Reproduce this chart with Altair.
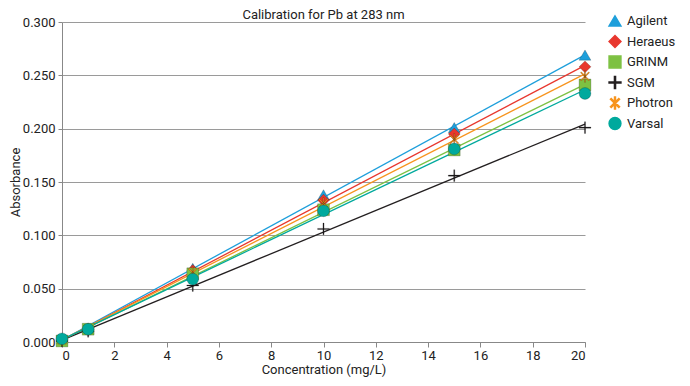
import altair as alt
import pandas as pd

conc = [0, 1, 5, 10, 15, 20]
agilent = [0.003, 0.013, 0.069, 0.138, 0.201, 0.269]
heraeus = [0.002, 0.012, 0.067, 0.133, 0.195, 0.258]
grinm = [0.001, 0.012, 0.064, 0.124, 0.180, 0.241]
sgm = [0.001, 0.010, 0.053, 0.106, 0.156, 0.201]
photron = [0.002, 0.012, 0.065, 0.130, 0.190, 0.249]
varsal = [0.003, 0.012, 0.059, 0.123, 0.181, 0.233]

series_names = ["Agilent", "Heraeus", "GRINM", "SGM", "Photron", "Varsal"]
series_vals = [agilent, heraeus, grinm, sgm, photron, varsal]
colors = ["#1E9FDB", "#E8372E", "#7DC142", "#231F20", "#F7941E", "#00A99D"]

PLUS = "M-1,-0.09H1V0.09H-1Z M-0.09,-1H0.09V1H-0.09Z"
STAR = ("M-0.77,-0.63L0.63,0.77L0.77,0.63L-0.63,-0.77Z "
        "M-0.63,0.77L0.77,-0.63L0.63,-0.77L-0.77,0.63Z "
        "M-0.08,-1V1H0.08V-1Z")
shapes = ["triangle-up", "diamond", "square", PLUS, STAR, "circle"]

rows = []
for i, (name, vals) in enumerate(zip(series_names, series_vals)):
    for x, y in zip(conc, vals):
        rows.append({"series": name, "conc": x, "abs": y, "k": i})
df = pd.DataFrame(rows)

FONT = "Roboto"
TXT = "#222222"

xenc = alt.X("conc:Q", scale=alt.Scale(domain=[0, 20], nice=False),
             axis=alt.Axis(values=list(range(0, 21, 2)), title="Concentration (mg/L)",
                           grid=False, domainColor="#888888", tickColor="#888888",
                           tickSize=5, labelPadding=2, titlePadding=1, titleFontSize=13))
yenc = alt.Y("abs:Q", scale=alt.Scale(domain=[0, 0.3], nice=False),
             axis=alt.Axis(values=[0, 0.05, 0.1, 0.15, 0.2, 0.25, 0.3], format=".3f",
                           title="Absorbance", grid=True, gridColor="#9a9a9a",
                           domainColor="#888888", tickColor="#888888", tickSize=4,
                           labelPadding=3, titleX=-40, titleY=160, titleFontSize=13,
                           titleBaseline="bottom", titleAlign="center"))

leg = alt.Legend(title=None, orient="none", legendX=546, legendY=-8,
                 labelFontSize=13, labelFont=FONT, labelColor=TXT, symbolSize=140,
                 rowPadding=2.5, padding=0, labelOffset=5)
cscale = alt.Scale(domain=series_names, range=colors)
sscale = alt.Scale(domain=series_names, range=shapes)

base = alt.Chart(df)

lines = base.transform_regression("conc", "abs", groupby=["series"]).mark_line(
    strokeWidth=1.3).encode(
    x=xenc, y=yenc,
    color=alt.Color("series:N", scale=cscale, legend=leg))

points = base.mark_point(filled=True, size=140, opacity=1, stroke="#00000055",
                         strokeWidth=0.6).encode(
    x=xenc, y=yenc,
    color=alt.Color("series:N", scale=cscale, legend=leg),
    shape=alt.Shape("series:N", scale=sscale, legend=leg),
    order=alt.Order("k:Q"))

chart = alt.layer(lines, points).properties(
    width=523, height=320,
    autosize=alt.AutoSizeParams(type="none"),
    padding={"left": 54, "top": 14, "right": 97, "bottom": 36},
    title=alt.TitleParams("Calibration for Pb at 283 nm", fontSize=13, font=FONT,
                          fontWeight="normal", offset=2, color=TXT, frame="group",
                          dy=10),
).configure_axis(
    labelFont=FONT, titleFont=FONT,
    labelFontSize=13, titleFontSize=14,
    titleFontWeight="normal", labelColor=TXT, titleColor=TXT,
).configure_view(stroke=None)

chart.save("out.html", embed_options={"renderer": "svg", "actions": False})
